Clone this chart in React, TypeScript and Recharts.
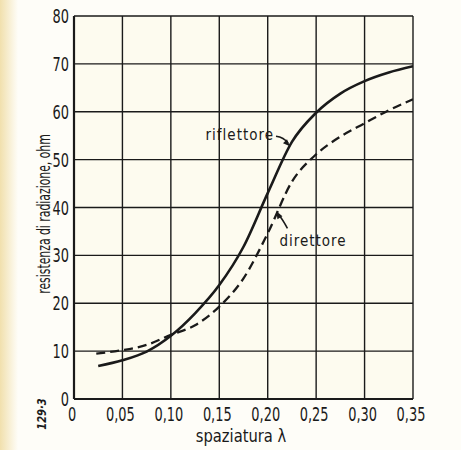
import React from "react";
import { LineChart, Line, XAxis, YAxis, CartesianGrid, ReferenceDot } from "recharts";

const xTicks = [0, 0.05, 0.1, 0.15, 0.2, 0.25, 0.3, 0.35];
const yTicks = [0, 10, 20, 30, 40, 50, 60, 70, 80];

const riflettoreX = [0.025, 0.05, 0.075, 0.1, 0.125, 0.15, 0.175, 0.2, 0.225, 0.25, 0.275, 0.3, 0.325, 0.35];
const riflettoreY = [6.9, 8.1, 9.9, 13.2, 17.9, 23.8, 31.8, 43.0, 53.7, 59.8, 63.8, 66.4, 68.2, 69.5];

const direttoreX = [0.023, 0.05, 0.075, 0.1, 0.125, 0.15, 0.175, 0.2, 0.225, 0.25, 0.275, 0.3, 0.325, 0.35];
const direttoreY = [9.5, 10.2, 11.3, 13.4, 15.4, 19.3, 25.2, 34.6, 45.4, 51.1, 54.8, 57.6, 60.3, 62.6];

const riflettoreData = riflettoreX.map((x, i) => ({ x, y: riflettoreY[i] }));
const direttoreData = direttoreX.map((x, i) => ({ x, y: direttoreY[i] }));

const FONT = "'DejaVu Sans Condensed', 'DejaVu Sans', sans-serif";
const INK = "#1a1a1a";
const SQ = 0.72;

const fmtX = (v: number) => (v === 0 ? "0" : v.toFixed(2).replace(".", ","));

const XTick = (props: any) => {
  const { x, y, payload } = props;
  return (
    <g transform={`translate(${x - 2},${y + 14}) scale(${SQ},1)`}>
      <text textAnchor="middle" fontFamily={FONT} fontSize={20} fill={INK}>
        {fmtX(payload.value)}
      </text>
    </g>
  );
};

const YTick = (props: any) => {
  const { x, y, payload } = props;
  return (
    <g transform={`translate(${x + 3},${y + 7}) scale(${SQ},1)`}>
      <text textAnchor="end" fontFamily={FONT} fontSize={20} fill={INK}>
        {String(payload.value)}
      </text>
    </g>
  );
};

const RifLabel = (props: any) => {
  const { viewBox } = props;
  const cx = viewBox.x + (viewBox.width || 0) / 2;
  const cy = viewBox.y + (viewBox.height || 0) / 2;
  return (
    <g>
      <text
        x={cx - 16}
        y={cy - 6}
        textAnchor="end"
        fontFamily={FONT}
        fontSize={15}
        letterSpacing={1}
        fill={INK}
      >
        riflettore
      </text>
      <path d={`M${cx - 14},${cy - 10} Q${cx - 6},${cy - 9} ${cx - 2},${cy - 3}`} stroke={INK} strokeWidth={1.6} fill="none" />
      <path d={`M${cx},${cy} L${cx - 7},${cy - 3} L${cx - 3},${cy - 7} Z`} fill={INK} />
    </g>
  );
};

const DirLabel = (props: any) => {
  const { viewBox } = props;
  const cx = viewBox.x + (viewBox.width || 0) / 2;
  const cy = viewBox.y + (viewBox.height || 0) / 2;
  return (
    <g>
      <text
        x={cx + 3}
        y={cy + 35}
        fontFamily={FONT}
        fontSize={15}
        letterSpacing={1}
        fill={INK}
      >
        direttore
      </text>
      <path d={`M${cx + 11},${cy + 17} Q${cx + 6},${cy + 8} ${cx + 2},${cy + 3}`} stroke={INK} strokeWidth={1.6} fill="none" />
      <path d={`M${cx},${cy} L${cx + 6},${cy + 5} L${cx + 1},${cy + 8} Z`} fill={INK} />
    </g>
  );
};

export default function App() {
  return (
    <div
      style={{
        position: "absolute",
        left: 0,
        top: 0,
        width: 461,
        height: 450,
        background: "#fefdf8",
        overflow: "hidden",
      }}
    >
      <div
        style={{
          position: "absolute",
          left: 0,
          top: 0,
          width: 18,
          height: 450,
          background: "linear-gradient(to right, #f1e0ad, #fefdf8)",
        }}
      />
      <div style={{ position: "absolute", left: 0, top: 0 }}>
        <LineChart width={461} height={450} margin={{ top: 16, right: 48, bottom: 0, left: 0 }}>
          <CartesianGrid stroke={INK} strokeWidth={1.4} fill="#fdfbef" fillOpacity={1} />
          <XAxis
            type="number"
            dataKey="x"
            domain={[0, 0.35]}
            ticks={xTicks}
            interval={0}
            height={51}
            tickLine={false}
            axisLine={{ stroke: INK, strokeWidth: 2.2 }}
            tick={<XTick />}
            allowDataOverflow
          />
          <YAxis
            type="number"
            dataKey="y"
            domain={[0, 80]}
            ticks={yTicks}
            interval={0}
            width={74}
            tickLine={false}
            axisLine={{ stroke: INK, strokeWidth: 2.2 }}
            tick={<YTick />}
            allowDataOverflow
          />
          <Line
            data={riflettoreData}
            dataKey="y"
            type="monotone"
            stroke={INK}
            strokeWidth={2.6}
            dot={false}
            isAnimationActive={false}
          />
          <Line
            data={direttoreData}
            dataKey="y"
            type="monotone"
            stroke={INK}
            strokeWidth={2.3}
            strokeDasharray="9 5"
            dot={false}
            isAnimationActive={false}
          />
          <ReferenceDot x={0.223} y={52.8} r={0} fill="none" stroke="none" label={<RifLabel />} />
          <ReferenceDot x={0.209} y={39.2} r={0} fill="none" stroke="none" label={<DirLabel />} />
        </LineChart>
      </div>
      <svg width={461} height={450} style={{ position: "absolute", left: 0, top: 0, pointerEvents: "none" }}>
        <g transform={`translate(241,442) scale(0.91,1)`}>
          <text textAnchor="middle" fontFamily={FONT} fontSize={18} fill={INK}>spaziatura λ</text>
        </g>
        <g transform={`translate(50,214) rotate(-90) scale(0.67,1)`}>
          <text textAnchor="middle" fontFamily={FONT} fontSize={18} fill={INK}>resistenza di radiazione, ohm</text>
        </g>
        <g transform={`translate(46,414) rotate(-90) scale(0.85,1)`}>
          <text textAnchor="middle" fontFamily={FONT} fontSize={13} fontStyle="italic" fontWeight="bold" fill={INK}>129·3</text>
        </g>
      </svg>
    </div>
  );
}
